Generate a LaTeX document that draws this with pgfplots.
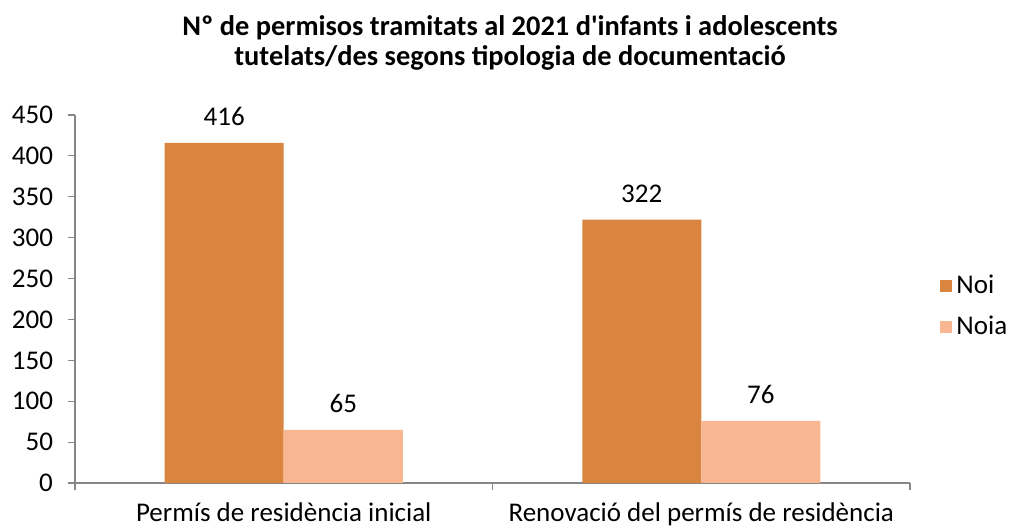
\documentclass[border=0pt]{standalone}
\usepackage{pgfplots}
\pgfplotsset{compat=1.18}
\usepackage{fontspec}
\setmainfont{Carlito}
\definecolor{noi}{RGB}{217,132,63}
\definecolor{noia}{RGB}{248,182,146}
\definecolor{axgray}{RGB}{134,134,134}
\begin{document}
\begin{tikzpicture}
\path[use as bounding box] (-37.5pt,-23.5pt) rectangle (469.5pt,241.5pt);
\begin{axis}[
  at={(0,0)}, anchor=south west,
  scale only axis, width=417.5pt, height=184pt,
  xmin=-0.5, xmax=1.5, ymin=0, ymax=450,
  ytick={0,50,...,450},
  xtick={-0.5,0.5,1.5},
  xticklabels={},
  extra x ticks={0,1},
  extra x tick labels={Permís de residència inicial, Renovació del permís de residència},
  extra x tick style={major tick length=0pt, xticklabel style={yshift=-6.5pt}},
  axis x line*=bottom, axis y line*=left,
  axis line style={draw=axgray, line width=0.6pt},
  tick style={draw=axgray, line width=0.6pt},
  major tick length=3.5pt,
  tick align=outside,
  /pgf/number format/assume math mode=true,
  tick label style={font=\fontsize{13.5}{15}\selectfont, text=black},
  yticklabel style={xshift=-4pt},
  ybar, bar width=59.5pt,
  nodes near coords,
  every node near coord/.append style={font=\fontsize{13.5}{15}\selectfont, yshift=5pt},
  legend style={at={(1,0.48)}, anchor=west, xshift=12pt, draw=none, fill=none,
    font=\fontsize{13.5}{15}\selectfont, row sep=6pt},
  legend cell align=left,
  legend image code/.code={\fill[#1] (0pt,-3pt) rectangle (6pt,3pt);},
  title={Nº de permisos tramitats al 2021 d\textquotesingle infants i adolescents\\tutelats/des segons tipologia de documentació},
  title style={at={(0.521,1)}, anchor=south, yshift=13pt, align=center,
    font=\bfseries\fontsize{14.2}{15}\selectfont},
]
\addplot[fill=noi, draw=none, bar shift=-29.75pt] coordinates {(0,416) (1,322)};
\addplot[fill=noia, draw=none, bar shift=29.75pt] coordinates {(0,65) (1,76)};
\legend{Noi,Noia}
\end{axis}
\end{tikzpicture}
\end{document}
